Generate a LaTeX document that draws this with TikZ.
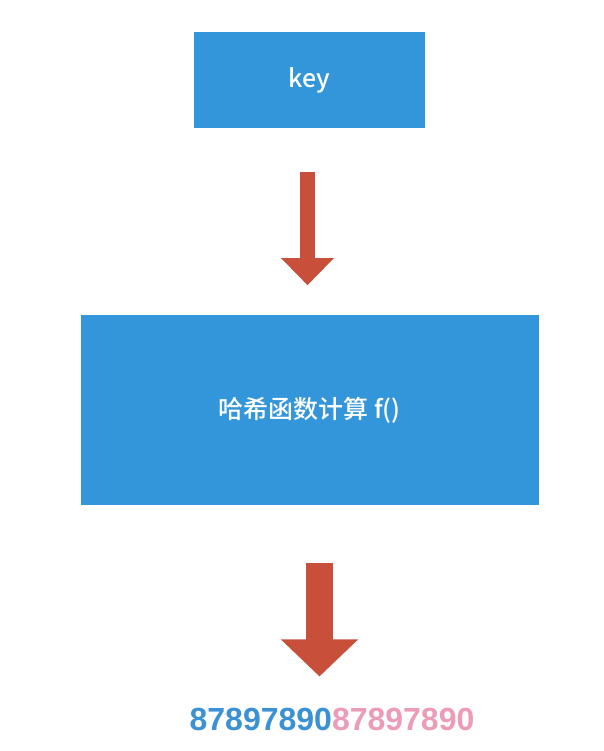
\documentclass[tikz,border=0pt]{standalone}
\usepackage{fontspec}
\setmainfont{Noto Sans CJK SC}[BoldFont={Noto Sans CJK SC Medium}]
\newfontfamily\numfont{Liberation Sans}
\usepackage{tikz}
\usetikzlibrary{positioning, arrows.meta}

\definecolor{boxblue}{RGB}{52,150,218}
\definecolor{arrowred}{RGB}{200,80,58}
\definecolor{numblue}{RGB}{58,145,212}
\definecolor{numpink}{RGB}{236,156,182}

\begin{document}
\begin{tikzpicture}[
    x=1pt, y=-1pt,
    box/.style={rectangle, fill=boxblue, draw=none, text=white, inner sep=0pt},
    boxtext/.style={font=\bfseries\fontsize{25}{25}\selectfont},
    bigarrow/.style={arrowred, line cap=butt},
    numtext/.style={inner sep=0pt, anchor=base, font=\numfont\bfseries\fontsize{32}{32}\selectfont}
]
    \useasboundingbox (0,0) rectangle (604,751);

    % --- Box key (top)
    \node[box, boxtext, minimum width=231pt, minimum height=96pt] (key) at (309.5,80) {key};

    % --- Box hash function (middle)
    \node[box, boxtext, minimum width=458pt, minimum height=190pt,
          below=187pt of key] (hash) {哈希函数计算 f()};

    % --- Hash value (bottom)
    \node[numtext] (hashval) at (332,730)
        {\textcolor{numblue}{87897890}\textcolor{numpink}{87897890}};

    \draw[bigarrow, line width=15pt, -{Triangle[width=51pt, length=27pt]}]
        ([xshift=-2pt, yshift=-44pt]key.south) -- ([xshift=-2pt, yshift=30pt]hash.north);
    \draw[bigarrow, line width=27pt, -{Triangle[width=75pt, length=37pt]}]
        ([xshift=10pt, yshift=-57pt]hash.south) -- ([xshift=-12.5pt, yshift=31pt]hashval.north);

\end{tikzpicture}
\end{document}
